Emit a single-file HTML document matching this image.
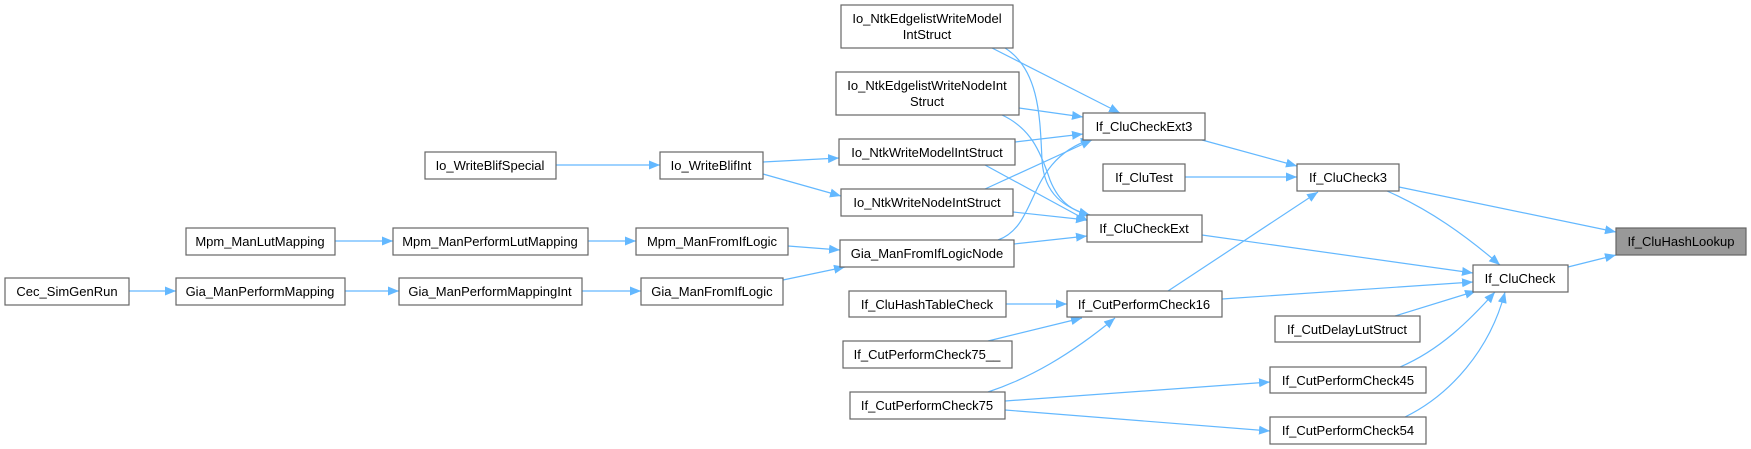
<!DOCTYPE html>
<html><head><meta charset="utf-8"><style>
html,body{margin:0;padding:0;background:#fff;}
svg{display:block;}
text{font-family:"Liberation Sans",Arial,sans-serif;font-size:13px;fill:#000;}
</style></head><body>
<svg width="1751" height="449" viewBox="0 0 1751 449" xmlns="http://www.w3.org/2000/svg">
<defs><marker id="a" markerUnits="userSpaceOnUse" markerWidth="12" markerHeight="10" refX="11" refY="5" orient="auto"><path d="M0,0.5 L11,5 L0,9.5 z" fill="#63b8ff"/></marker></defs>
<g fill="none" stroke="#63b8ff" stroke-width="1.2" marker-end="url(#a)">
<path d="M556,165 L660,165"/>
<path d="M763,162 L839,158"/>
<path d="M763,174 L841,196"/>
<path d="M335,241 L393,241"/>
<path d="M588,241 L636,241"/>
<path d="M788,246 L840,250"/>
<path d="M129,291 L176,291"/>
<path d="M345,291 L399,291"/>
<path d="M582,291 L641,291"/>
<path d="M783,280 L845,267"/>
<path d="M992,48 L1120,113"/>
<path d="M1005,48 C1040,70 1040,120 1042,160 C1044,195 1065,208 1090,215"/>
<path d="M1019,108 L1083,117"/>
<path d="M1002,115 C1030,128 1040,150 1050,180 C1060,205 1075,211 1090,216"/>
<path d="M1015,142 L1083,134"/>
<path d="M985,165 L1088,221"/>
<path d="M985,189 L1092,140"/>
<path d="M1013,212 L1087,220"/>
<path d="M998,240 C1040,225 1025,160 1092,139"/>
<path d="M1014,244 L1087,236"/>
<path d="M1202,140 L1297,166"/>
<path d="M1185,177 L1297,177"/>
<path d="M1168,291 L1318,192"/>
<path d="M1399,187 L1616,232"/>
<path d="M1387,191 C1430,210 1465,235 1500,265"/>
<path d="M1568,267 L1616,255"/>
<path d="M1202,235 L1473,273"/>
<path d="M1222,299 L1473,282"/>
<path d="M1395,316 L1476,291"/>
<path d="M1400,367 C1440,350 1470,320 1495,292"/>
<path d="M1405,417 C1450,395 1490,350 1505,292"/>
<path d="M1006,304 L1067,304"/>
<path d="M988,341 L1082,318"/>
<path d="M988,392 C1030,378 1070,355 1115,318"/>
<path d="M1005,401 L1270,382"/>
<path d="M1005,410 L1270,431"/>
</g>
<g stroke="#666" stroke-width="1.2" fill="#fff">
<rect x="1616" y="228" width="130" height="27" fill="#999"/>
<rect x="1473" y="265" width="95" height="27"/>
<rect x="1297" y="164" width="102" height="27"/>
<rect x="1083" y="113" width="122" height="27"/>
<rect x="1103" y="164" width="82" height="27"/>
<rect x="1087" y="215" width="115" height="27"/>
<rect x="1067" y="291" width="155" height="26"/>
<rect x="1275" y="316" width="145" height="26"/>
<rect x="1270" y="367" width="156" height="26"/>
<rect x="1270" y="417" width="156" height="27"/>
<rect x="841" y="5" width="172" height="43"/>
<rect x="836" y="72" width="183" height="43"/>
<rect x="839" y="139" width="176" height="26"/>
<rect x="841" y="189" width="172" height="27"/>
<rect x="840" y="240" width="174" height="27"/>
<rect x="849" y="291" width="157" height="26"/>
<rect x="843" y="341" width="169" height="27"/>
<rect x="850" y="392" width="155" height="27"/>
<rect x="425" y="152" width="131" height="27"/>
<rect x="660" y="152" width="103" height="27"/>
<rect x="186" y="228" width="149" height="27"/>
<rect x="393" y="228" width="195" height="27"/>
<rect x="636" y="228" width="152" height="27"/>
<rect x="5" y="278" width="124" height="27"/>
<rect x="176" y="278" width="169" height="27"/>
<rect x="399" y="278" width="183" height="27"/>
<rect x="641" y="278" width="142" height="27"/>
</g>
<g text-anchor="middle">
<text x="1681" y="246">If_CluHashLookup</text>
<text x="1520" y="283">If_CluCheck</text>
<text x="1348" y="182">If_CluCheck3</text>
<text x="1144" y="131">If_CluCheckExt3</text>
<text x="1144" y="182">If_CluTest</text>
<text x="1144" y="233">If_CluCheckExt</text>
<text x="1144" y="309">If_CutPerformCheck16</text>
<text x="1347" y="334">If_CutDelayLutStruct</text>
<text x="1348" y="385">If_CutPerformCheck45</text>
<text x="1348" y="435">If_CutPerformCheck54</text>
<text x="927" y="23">Io_NtkEdgelistWriteModel</text>
<text x="927" y="39">IntStruct</text>
<text x="927" y="90">Io_NtkEdgelistWriteNodeInt</text>
<text x="927" y="106">Struct</text>
<text x="927" y="157">Io_NtkWriteModelIntStruct</text>
<text x="927" y="207">Io_NtkWriteNodeIntStruct</text>
<text x="927" y="258">Gia_ManFromIfLogicNode</text>
<text x="927" y="309">If_CluHashTableCheck</text>
<text x="927" y="359">If_CutPerformCheck75__</text>
<text x="927" y="410">If_CutPerformCheck75</text>
<text x="490" y="170">Io_WriteBlifSpecial</text>
<text x="711" y="170">Io_WriteBlifInt</text>
<text x="260" y="246">Mpm_ManLutMapping</text>
<text x="490" y="246">Mpm_ManPerformLutMapping</text>
<text x="712" y="246">Mpm_ManFromIfLogic</text>
<text x="67" y="296">Cec_SimGenRun</text>
<text x="260" y="296">Gia_ManPerformMapping</text>
<text x="490" y="296">Gia_ManPerformMappingInt</text>
<text x="712" y="296">Gia_ManFromIfLogic</text>
</g>
</svg>
</body></html>
